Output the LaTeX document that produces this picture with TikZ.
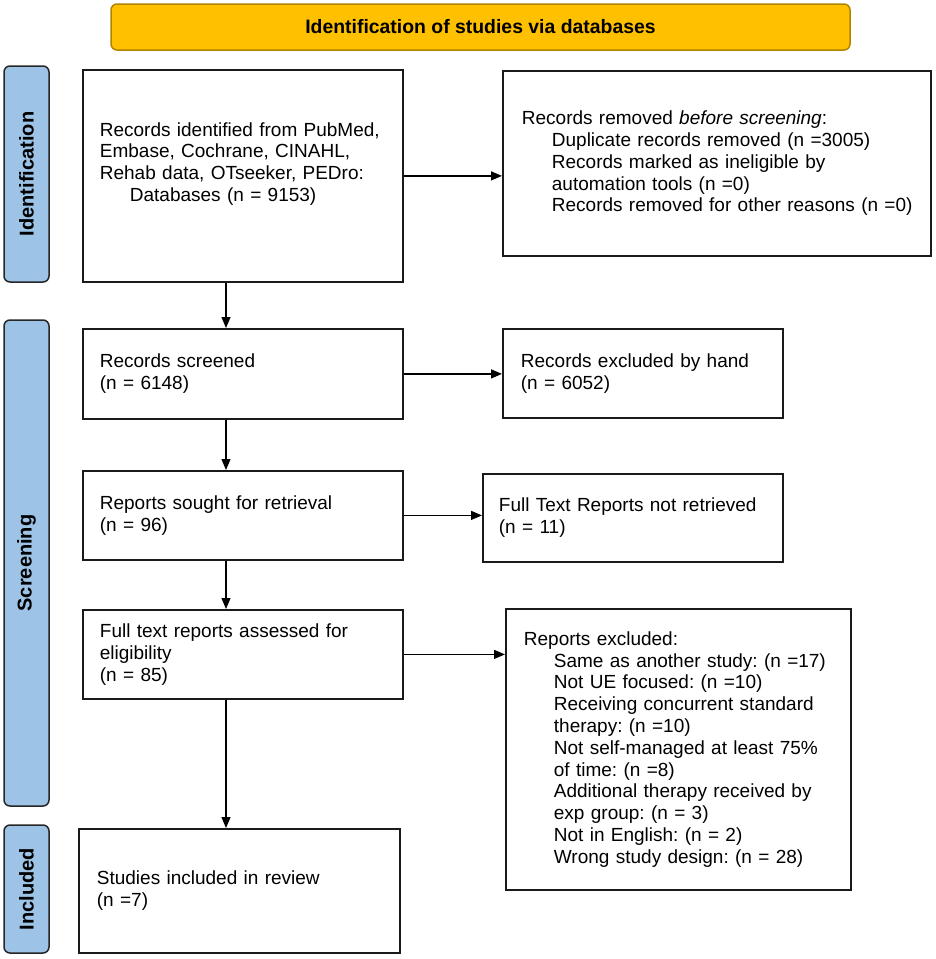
\documentclass[tikz,border=0pt]{standalone}
\usepackage{fontspec}
\setmainfont{Liberation Sans}
\usetikzlibrary{arrows.meta}
\definecolor{bannerfill}{HTML}{FFC000}
\definecolor{bannerdraw}{HTML}{B08400}
\definecolor{phasefill}{HTML}{9DC3E6}
\definecolor{phasedraw}{HTML}{262626}
\definecolor{boxdraw}{HTML}{1A1A1A}
\newcommand{\myindent}{\hspace*{30pt}}
\frenchspacing
\tikzset{
  box/.style={draw=boxdraw, line width=1.8pt, anchor=north west, align=left,
    font=\fontsize{19}{21.8}\selectfont\frenchspacing, inner ysep=0pt},
  phase/.style={draw=phasedraw, fill=phasefill, line width=1.5pt, rounded corners=6pt,
    rotate=90, font=\fontsize{20}{24}\selectfont\bfseries, inner sep=0pt, minimum height=45pt},
  banner/.style={draw=bannerdraw, fill=bannerfill, line width=1.5pt, rounded corners=6pt,
    font=\fontsize{19.4}{22}\selectfont\bfseries, inner sep=0pt},
  arr/.style={line width=1.2pt, draw=black, -{Triangle[length=11pt,width=9pt]}},
}
\begin{document}
\begin{tikzpicture}[x=1pt,y=-1pt]
\useasboundingbox (0,0) rectangle (935,959);

% banner and phase labels
\node[banner, minimum width=739pt, minimum height=46pt] (ban) at (480.5,27) {Identification of studies via databases};
\node[phase, minimum width=216pt] (pid) at (26.5,174) {Identification};
\node[phase, minimum width=486pt] (psc) at (26.5,563) {Screening};
\node[phase, minimum width=128pt] (pin) at (26.5,889) {Included};

% boxes
\node[box, text width=286pt, inner xsep=17pt, minimum height=212pt] (b1) at (82,69)
  {\mbox{Records identified from PubMed,}\\
   \mbox{Embase, Cochrane, CINAHL,}\\
   \mbox{Rehab data, OTseeker, PEDro:}\\
   \mbox{\myindent Databases (n = 9153)}\rule[-28pt]{0pt}{28pt}};

\node[box, text width=390pt, inner xsep=19pt, minimum height=185pt] (b2) at (502,70)
  {\mbox{Records removed \textit{before screening}:}\\
   \mbox{\myindent Duplicate records removed (n =3005)}\\
   \mbox{\myindent Records marked as ineligible by}\\
   \mbox{\myindent automation tools (n =0)}\\
   \mbox{\myindent Records removed for other reasons (n =0)}};

\node[box, text width=286pt, inner xsep=17pt, minimum height=90pt] (b3) at (82,328)
  {\mbox{Records screened}\\ \mbox{(n = 6148)}};

\node[box, text width=244pt, inner xsep=18pt, minimum height=89pt] (b4) at (502,328)
  {\mbox{Records excluded by hand}\\ \mbox{(n = 6052)}};

\node[box, text width=286pt, inner xsep=17pt, minimum height=89pt] (b5) at (82,470)
  {\mbox{Reports sought for retrieval}\\ \mbox{(n = 96)}};

\node[box, text width=268pt, inner xsep=16pt, minimum height=88pt] (b6) at (482,473)
  {\mbox{Full Text Reports not retrieved}\\ \mbox{(n = 11)}};

\node[box, text width=286pt, inner xsep=17pt, minimum height=89pt] (b7) at (82,609)
  {\mbox{Full text reports assessed for}\\ \mbox{eligibility}\\ \mbox{(n = 85)}};

\node[box, text width=309pt, inner xsep=18pt, minimum height=281pt] (b8) at (505,608)
  {\mbox{Reports excluded:}\\
   \mbox{\myindent Same as another study: (n =17)}\\
   \mbox{\myindent Not UE focused: (n =10)}\\
   \mbox{\myindent Receiving concurrent standard}\\
   \mbox{\myindent therapy: (n =10)}\\
   \mbox{\myindent Not self-managed at least 75\%}\\
   \mbox{\myindent of time: (n =8)}\\
   \mbox{\myindent Additional therapy received by}\\
   \mbox{\myindent exp group: (n = 3)}\\
   \mbox{\myindent Not in English: (n = 2)}\\
   \mbox{\myindent Wrong study design: (n = 28)}};

\node[box, text width=285pt, inner xsep=18pt, minimum height=124pt] (b9) at (78,828)
  {\mbox{Studies included in review}\\ \mbox{(n =7)}};

% connectors
\coordinate (ax) at (226,0);
\draw[arr] (b1.east) -- (b1.east -| b2.west);
\draw[arr] (b3.east) -- (b3.east -| b4.west);
\draw[arr] (b5.east) -- (b5.east -| b6.west);
\draw[arr] (b7.east) -- (b7.east -| b8.west);
\draw[arr] (ax |- b1.south) -- (ax |- b3.north);
\draw[arr] (ax |- b3.south) -- (ax |- b5.north);
\draw[arr] (ax |- b5.south) -- (ax |- b7.north);
\draw[arr] (ax |- b7.south) -- (ax |- b9.north);
\end{tikzpicture}
\end{document}
